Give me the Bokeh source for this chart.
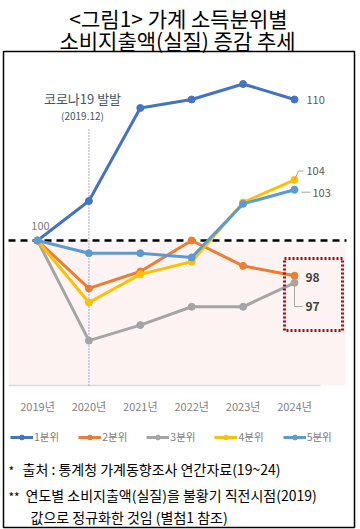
from bokeh.plotting import figure
from bokeh.models import Label, BoxAnnotation, Legend, LegendItem
from bokeh.embed import file_html
from bokeh.resources import INLINE
from bokeh.core.properties import value

# ---------------- data ----------------
years = ["2019년", "2020년", "2021년", "2022년", "2023년", "2024년"]
series_names = ["1분위", "2분위", "3분위", "4분위", "5분위"]
q1 = [100.0, 102.8, 109.4, 110.0, 111.1, 110.0]
q2 = [100.0, 96.6, 97.8, 100.0, 98.2, 97.5]
q3 = [100.0, 92.9, 94.0, 95.3, 95.3, 97.0]
q4 = [100.0, 95.6, 97.6, 98.5, 102.7, 104.3]
q5 = [100.0, 99.1, 99.1, 98.8, 102.6, 103.6]
end_labels = ["110", "98", "97", "104", "103"]
colors = ["#4472C4", "#ED7D31", "#A5A5A5", "#FFC000", "#5B9BD5"]

# ---------------- layout constants ----------------
FONT = "Noto Sans CJK KR"
W, H = 360, 529
BOX_L, BOX_R, BOX_T, BOX_B = 3, 354, 51, 527
X0_PX, DX_PX = 37.0, 51.4      # pixel of first year, pixels per year
Y100_PX, DY_PX = 240.0, 14.1   # pixel of value 100, pixels per unit


def px2x(px):
    return (px - X0_PX) / DX_PX


def py2y(py):
    return 100 - (py - Y100_PX) / DY_PX


p = figure(width=W, height=H,
           x_range=(px2x(0), px2x(W)),
           y_range=(py2y(H), py2y(0)),
           output_backend="svg", toolbar_location=None, title=None,
           x_axis_location=None, y_axis_location=None,
           min_border_left=0, min_border_right=0,
           min_border_top=0, min_border_bottom=0)
p.margin = (0, 0, 0, 0)
p.grid.visible = False
p.outline_line_color = None
p.background_fill_color = "white"
p.border_fill_color = "white"

# outer frame box
p.add_layout(BoxAnnotation(left=px2x(BOX_L), right=px2x(BOX_R), top=py2y(BOX_T), bottom=py2y(BOX_B),
                           fill_alpha=0, line_color="black", line_alpha=1, line_width=1.5))
# pink region below 100
p.add_layout(BoxAnnotation(top=100, bottom=py2y(385), left=px2x(8), right=px2x(345),
                           fill_color="#fdf3f3", fill_alpha=1, line_color=None, level="underlay"))
# x axis line
p.segment(x0=[px2x(8)], y0=[py2y(385)], x1=[px2x(320)], y1=[py2y(385)],
          line_color="#d9d9d9", line_width=1.5)
# covid vertical dotted line at 2020
p.segment(x0=[1], y0=[py2y(385)], x1=[1], y1=[py2y(128)],
          line_color="#7a80c8", line_width=1.3, line_dash="1 2")
# 100 dashed line
p.segment(x0=[px2x(8)], y0=[100], x1=[px2x(346)], y1=[100],
          line_color="black", line_width=2.5, line_dash="7 5")

# year labels
p.text(x=list(range(len(years))), y=[py2y(405)] * len(years), text=years,
       text_align="center", text_baseline="middle", text_font=value(FONT),
       text_font_size="11px", text_color="#7f7f7f")

items = []
for name, vals, c in zip(series_names, [q1, q2, q3, q4, q5], colors):
    xs = list(range(len(vals)))
    rl = p.line(xs, vals, line_color=c, line_width=3)
    rc = p.scatter(xs, vals, size=7, fill_color=c, line_color=c)
    items.append(LegendItem(label=name, renderers=[rl, rc]))

legend = Legend(items=items, orientation="horizontal", location=(10, 85),
                glyph_width=23, glyph_height=12, label_height=12, label_standoff=1,
                spacing=19, padding=0, margin=0, border_line_color=None,
                background_fill_alpha=0, label_text_font=FONT,
                label_text_font_size="10.5px", label_text_color="#808080")
p.add_layout(legend)

# leader lines for end labels
p.line([5, px2x(298), px2x(303)], [q4[5], py2y(170.5), py2y(170.5)],
       line_color="#a6a6a6", line_width=1)
p.line([px2x(301), px2x(310)], [py2y(191.7), py2y(191.7)], line_color="#a6a6a6", line_width=1)
p.line([5, 5, px2x(302)], [q3[5], py2y(306), py2y(306)], line_color="#a6a6a6", line_width=1)

# red dotted highlight box
p.add_layout(BoxAnnotation(left=px2x(284), right=px2x(342), top=py2y(258), bottom=py2y(330),
                           fill_alpha=0, line_color="#c00000", line_alpha=1,
                           line_width=3, line_dash="2 2"))


def lab(text, px, py, size, color, align="left", bold=False):
    p.add_layout(Label(x=px2x(px), y=py2y(py), text=text, text_align=align,
                       text_baseline="middle", text_font=FONT, text_font_size=size,
                       text_color=color, text_font_style="bold" if bold else "normal"))


# title
lab("<그림1> 가계 소득분위별", 178, 17, "21px", "black", "center")
lab("소비지출액(실질) 증감 추세", 177, 39, "21px", "black", "center")
# annotations
lab("코로나19 발발", 82, 98, "13px", "#44546a", "center")
lab("(2019.12)", 82, 115, "10px", "#44546a", "center")
lab("100", 40, 225, "11px", "#808080", "center")
lab(end_labels[0], 306, 99, "11px", "#595959")
lab(end_labels[3], 306, 170, "11px", "#595959")
lab(end_labels[4], 312, 192, "11px", "#595959")
lab(end_labels[1], 305, 277, "12px", "#404040", bold=True)
lab(end_labels[2], 305, 306, "12px", "#404040", bold=True)
# footnotes
lab("*", 8, 470, "12px", "black")
lab("출처 : 통계청 가계동향조사 연간자료(19~24)", 22, 468, "14px", "black")
lab("**", 8, 496, "12px", "black")
lab("연도별 소비지출액(실질)을 불황기 직전시점(2019)", 25, 494, "14px", "black")
lab("값으로 정규화한 것임 (별첨1 참조)", 30, 516, "14px", "black")

open("out.html", "w").write(file_html(p, INLINE))
